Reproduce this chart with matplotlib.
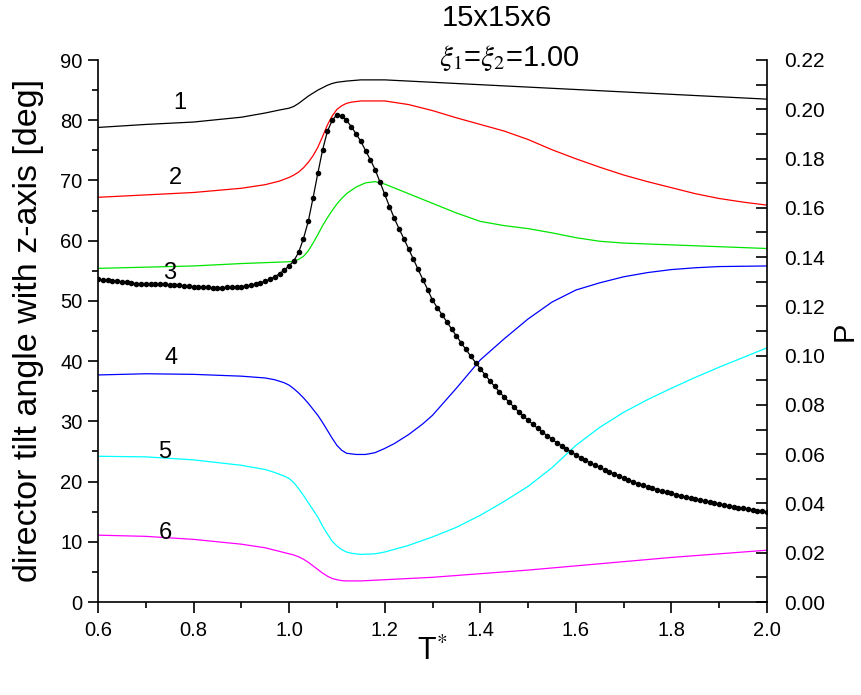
import numpy as np
import matplotlib
matplotlib.use("Agg")
import matplotlib.pyplot as plt
from matplotlib.ticker import MultipleLocator, FormatStrFormatter

plt.rcParams['font.family'] = ['Liberation Sans', 'DejaVu Sans']
plt.rcParams['mathtext.fontset'] = 'stix'

# ---- data: director tilt angle curves (deg) ----
T1 = [0.60, 0.70, 0.80, 0.90, 0.95, 0.98, 1.00, 1.01, 1.02, 1.03, 1.04, 1.05, 1.06, 1.07, 1.08, 1.09, 1.10, 1.12, 1.15, 1.20, 1.30, 1.40, 1.50, 1.60, 1.70, 1.80, 1.90, 2.00]
A1 = [78.8, 79.3, 79.7, 80.5, 81.2, 81.7, 82.0, 82.3, 82.8, 83.4, 84.0, 84.5, 85.0, 85.4, 85.8, 86.1, 86.3, 86.5, 86.7, 86.7, 86.3, 85.9, 85.5, 85.1, 84.7, 84.3, 83.9, 83.5]

T2 = [0.60, 0.70, 0.80, 0.90, 0.95, 0.98, 1.00, 1.01, 1.02, 1.03, 1.04, 1.05, 1.06, 1.07, 1.08, 1.09, 1.10, 1.11, 1.12, 1.13, 1.15, 1.20, 1.25, 1.30, 1.35, 1.40, 1.45, 1.50, 1.55, 1.60, 1.65, 1.70, 1.75, 1.80, 1.85, 1.90, 1.95, 2.00]
A2 = [67.2, 67.6, 68.0, 68.7, 69.3, 69.9, 70.5, 70.9, 71.4, 72.1, 73.0, 74.1, 75.5, 77.3, 79.2, 80.7, 81.8, 82.4, 82.8, 83.0, 83.2, 83.2, 82.6, 81.6, 80.4, 79.3, 78.2, 76.8, 75.1, 73.6, 72.2, 70.9, 69.8, 68.8, 67.8, 67.0, 66.4, 65.9]

T3 = [0.60, 0.70, 0.80, 0.90, 1.00, 1.01, 1.02, 1.03, 1.04, 1.05, 1.06, 1.07, 1.08, 1.09, 1.10, 1.11, 1.12, 1.14, 1.16, 1.18, 1.20, 1.25, 1.30, 1.35, 1.40, 1.45, 1.50, 1.55, 1.60, 1.65, 1.70, 1.80, 1.90, 2.00]
A3 = [55.4, 55.6, 55.8, 56.2, 56.5, 56.6, 56.9, 57.4, 58.3, 59.6, 61.0, 62.5, 63.8, 65.0, 66.1, 67.0, 67.8, 68.9, 69.6, 69.8, 69.4, 67.8, 66.2, 64.6, 63.2, 62.5, 62.0, 61.3, 60.5, 59.9, 59.6, 59.3, 59.0, 58.7]

T4 = [0.60, 0.70, 0.80, 0.90, 0.95, 0.97, 0.99, 1.00, 1.01, 1.02, 1.03, 1.04, 1.05, 1.06, 1.07, 1.08, 1.09, 1.10, 1.11, 1.12, 1.14, 1.16, 1.18, 1.20, 1.22, 1.25, 1.28, 1.30, 1.35, 1.40, 1.45, 1.50, 1.55, 1.60, 1.65, 1.70, 1.75, 1.80, 1.85, 1.90, 2.00]
A4 = [37.7, 37.9, 37.8, 37.5, 37.2, 36.9, 36.4, 36.0, 35.4, 34.7, 33.9, 33.0, 32.0, 31.0, 29.8, 28.5, 27.2, 26.0, 25.2, 24.7, 24.5, 24.5, 24.8, 25.5, 26.3, 27.8, 29.6, 31.0, 35.5, 40.2, 43.7, 47.0, 49.8, 51.8, 53.0, 54.0, 54.7, 55.2, 55.5, 55.7, 55.8]

T5 = [0.60, 0.70, 0.80, 0.90, 0.95, 0.97, 0.99, 1.00, 1.01, 1.02, 1.03, 1.04, 1.05, 1.06, 1.07, 1.08, 1.09, 1.10, 1.11, 1.12, 1.13, 1.15, 1.18, 1.20, 1.25, 1.30, 1.35, 1.40, 1.45, 1.50, 1.55, 1.60, 1.65, 1.70, 1.75, 1.80, 1.85, 1.90, 1.95, 2.00]
A5 = [24.2, 24.1, 23.6, 22.7, 22.0, 21.5, 20.9, 20.5, 19.8, 18.8, 17.7, 16.5, 15.3, 14.1, 12.6, 11.3, 10.1, 9.3, 8.7, 8.3, 8.1, 7.9, 8.0, 8.3, 9.4, 10.8, 12.4, 14.4, 16.7, 19.2, 22.3, 26.0, 29.0, 31.5, 33.6, 35.5, 37.3, 39.0, 40.6, 42.2]

T6 = [0.60, 0.70, 0.80, 0.90, 0.95, 1.00, 1.01, 1.02, 1.03, 1.04, 1.05, 1.06, 1.07, 1.08, 1.09, 1.10, 1.11, 1.12, 1.15, 1.20, 1.30, 1.40, 1.50, 1.60, 1.70, 1.80, 1.90, 2.00]
A6 = [11.1, 10.9, 10.4, 9.6, 9.0, 8.0, 7.8, 7.5, 7.1, 6.6, 6.0, 5.4, 4.8, 4.3, 3.9, 3.7, 3.55, 3.5, 3.5, 3.7, 4.1, 4.7, 5.3, 6.0, 6.7, 7.4, 8.0, 8.6]

curve_labels = ["1", "2", "3", "4", "5", "6"]
label_T = [0.772, 0.762, 0.749, 0.753, 0.740, 0.740]
label_A = [82.9, 70.4, 54.6, 40.5, 24.9, 11.5]
colors = ["black", "#ff0000", "#00e600", "#0000ff", "#00ffff", "#ff00ff"]

# ---- data: order parameter P (right axis), sampled every 0.01 in T ----
T_P = np.round(np.arange(141) * 0.01 + 0.60, 2)
P = [0.1310, 0.1308, 0.1306, 0.1304, 0.1302, 0.1300, 0.1297, 0.1294, 0.1292, 0.1290,
     0.1289, 0.1289, 0.1289, 0.1289, 0.1289, 0.1288, 0.1287, 0.1285, 0.1283, 0.1281,
     0.1280, 0.1279, 0.1278, 0.1277, 0.1276, 0.1276, 0.1276, 0.1277, 0.1277, 0.1278,
     0.1280, 0.1283, 0.1286, 0.1290, 0.1295, 0.1302, 0.1310, 0.1320, 0.1333, 0.1348,
     0.1365, 0.1385, 0.1420, 0.1475, 0.1545, 0.1640, 0.1740, 0.1835, 0.1910, 0.1955,
     0.1978, 0.1972, 0.1955, 0.1930, 0.1900, 0.1870, 0.1832, 0.1795, 0.1755, 0.1705,
     0.1655, 0.1605, 0.1558, 0.1515, 0.1475, 0.1433, 0.1392, 0.1350, 0.1308, 0.1268,
     0.1225, 0.1195, 0.1166, 0.1137, 0.1108, 0.1080, 0.1052, 0.1025, 0.0998, 0.0972,
     0.0947, 0.0922, 0.0898, 0.0875, 0.0853, 0.0832, 0.0812, 0.0792, 0.0773, 0.0755,
     0.0738, 0.0721, 0.0705, 0.0690, 0.0675, 0.0661, 0.0647, 0.0634, 0.0621, 0.0609,
     0.0597, 0.0586, 0.0575, 0.0565, 0.0555, 0.0546, 0.0537, 0.0528, 0.0520, 0.0512,
     0.0503, 0.0495, 0.0488, 0.0480, 0.0474, 0.0468, 0.0462, 0.0456, 0.0451, 0.0446,
     0.0441, 0.0436, 0.0431, 0.0426, 0.0422, 0.0417, 0.0413, 0.0409, 0.0405, 0.0401,
     0.0397, 0.0394, 0.0390, 0.0387, 0.0383, 0.0380, 0.0377, 0.0374, 0.0371, 0.0368,
     0.0365]

title_line1 = "15x15x6"
title_line2 = r"$\xi_1$=$\xi_2$=1.00"

# ---- figure ----
fig = plt.figure(figsize=(8.61, 6.95), dpi=100)
ax = fig.add_axes([98/861, 1 - 602/695, (767-98)/861, (602-60)/695])
ax2 = ax.twinx()

series = [(T1, A1), (T2, A2), (T3, A3), (T4, A4), (T5, A5), (T6, A6)]
for (t, a), c in zip(series, colors):
    ax.plot(t, a, color=c, lw=0.9)
for lab, lt, la in zip(curve_labels, label_T, label_A):
    ax.text(lt, la, lab, fontsize=17, ha="center", va="center", zorder=5)

ax2.plot(T_P, P, color="black", lw=0.9, marker="o", markersize=4.0,
         markerfacecolor="black", markeredgewidth=0)

ax.set_xlim(0.6, 2.0)
ax.set_ylim(0, 90)
ax2.set_ylim(0, 0.22)

ax.xaxis.set_major_locator(MultipleLocator(0.2))
ax.xaxis.set_minor_locator(MultipleLocator(0.1))
ax.xaxis.set_major_formatter(FormatStrFormatter("%.1f"))
ax.yaxis.set_major_locator(MultipleLocator(10))
ax.yaxis.set_minor_locator(MultipleLocator(5))
ax2.yaxis.set_major_locator(MultipleLocator(0.02))
ax2.yaxis.set_minor_locator(MultipleLocator(0.01))
ax2.yaxis.set_major_formatter(FormatStrFormatter("%.2f"))

for s in ["top", "right"]:
    ax.spines[s].set_visible(False)
for s in ["top", "left", "bottom"]:
    ax2.spines[s].set_visible(False)
for sp in list(ax.spines.values()) + list(ax2.spines.values()):
    sp.set_linewidth(1.2)

ax.tick_params(axis="x", which="major", direction="out", length=8, width=1.2, labelsize=14.5, pad=6)
ax.tick_params(axis="x", which="minor", direction="out", length=4, width=1.2)
ax.tick_params(axis="y", which="major", direction="out", length=7, width=1.2, labelsize=14.5, pad=4)
ax.tick_params(axis="y", which="minor", direction="out", length=4, width=1.2)
ax2.tick_params(axis="y", which="major", direction="in", length=8, width=1.2, labelsize=15, pad=12)
ax2.tick_params(axis="y", which="minor", direction="in", length=8, width=1.2)

ax.set_ylabel("director tilt angle with z-axis [deg]", fontsize=24.5, va="center")
ax.yaxis.set_label_coords((28 - 98) / 669, 0.5)
ax.set_xlabel(r"T$^{*}$", fontsize=22, va="center")
ax.xaxis.set_label_coords(0.5, -(652 - 602) / 542)
ax2.set_ylabel("P", fontsize=21, va="center")
ax2.yaxis.set_label_coords((845 - 98) / 669, 0.5)

fig.text(497/861, 1 - 18/695, title_line1, fontsize=21, ha="center", va="center")
fig.text(509/861, 1 - 58/695, title_line2, fontsize=21, ha="center", va="center")

fig.savefig("out.png", dpi=100)
